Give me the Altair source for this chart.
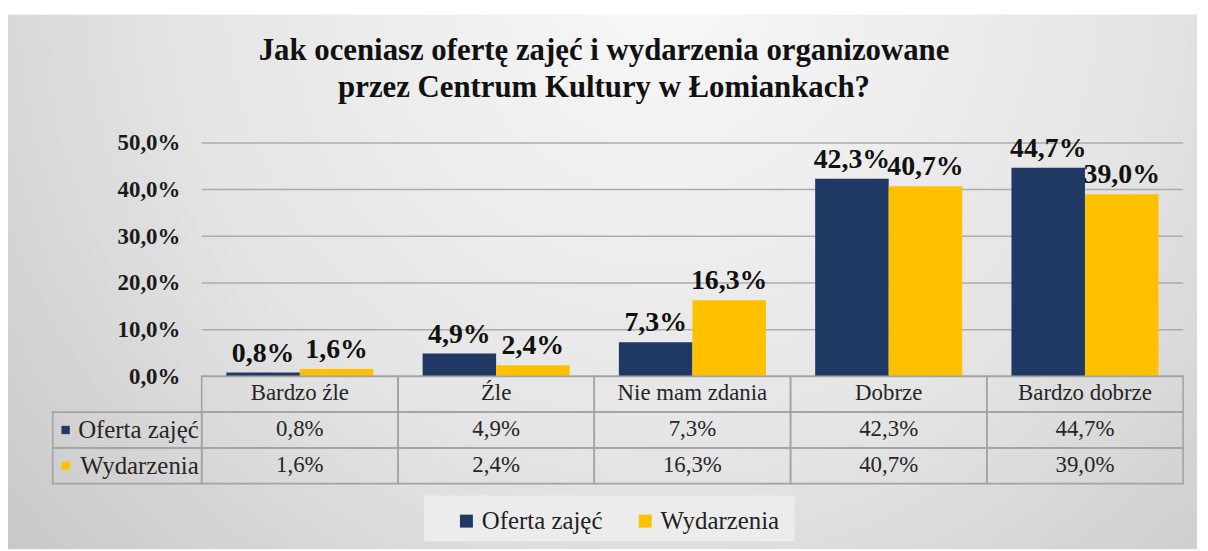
import altair as alt
import pandas as pd

categories = ["Bardzo źle", "Źle", "Nie mam zdania", "Dobrze", "Bardzo dobrze"]
series = ["Oferta zajęć", "Wydarzenia"]
oferta = [0.8, 4.9, 7.3, 42.3, 44.7]
wydarzenia = [1.6, 2.4, 16.3, 40.7, 39.0]
colors = ["#1F3864", "#FFC000"]
title_lines = ["Jak oceniasz ofertę zajęć i wydarzenia organizowane",
               "przez Centrum Kultury w Łomiankach?"]
y_ticks = [0, 10, 20, 30, 40, 50]

FONT = "'Times New Roman', 'Liberation Serif', 'DejaVu Serif', serif"
W, H = 988, 235

rows = []
for s, vals in zip(series, [oferta, wydarzenia]):
    for c, v in zip(categories, vals):
        rows.append({"cat": c, "series": s, "value": v})
long_df = pd.DataFrame(rows)

table_rows = [{"cat": c, "row": "head", "txt": c} for c in categories]
for r in rows:
    table_rows.append({"cat": r["cat"], "row": r["series"],
                       "txt": (f"{r['value']:.1f}".replace(".", ",") + "%")})
table_df = pd.DataFrame(table_rows)
series_df = pd.DataFrame({"series": series})
ticks_df = pd.DataFrame({"t": y_ticks})
one = pd.DataFrame({"k": [0]})

xscale = alt.Scale(domain=categories, paddingInner=0, paddingOuter=0)
xoff = alt.XOffset("series:N", scale=alt.Scale(domain=series, paddingInner=0, paddingOuter=0.335))
yscale = alt.Scale(domain=[0, 50], nice=False)
row_scale = alt.Scale(domain=["head"] + series, range=[H, H + 108], paddingInner=0, paddingOuter=0)
cscale = alt.Scale(domain=series, range=colors)
fmt = "replace(format(datum.value, '.1f'), '.', ',') + '%'"

grad = alt.RadialGradient(
    gradient="radial", x1=0.55, y1=0.25, x2=0.55, y2=0.25, r1=0, r2=0.75,
    stops=[alt.GradientStop(offset=0, color="#f8f8f8"),
           alt.GradientStop(offset=0.55, color="#e4e4e4"),
           alt.GradientStop(offset=1, color="#c6c6c6")])

bg = alt.Chart(one).mark_rect(fill=grad).encode(
    x=alt.value(-195), x2=alt.value(1002), y=alt.value(-129), y2=alt.value(409))

legend_box = alt.Chart(one).mark_rect(fill="#ececec").encode(
    x=alt.value(224), x2=alt.value(597), y=alt.value(355), y2=alt.value(401))

t1 = alt.Chart(one).mark_text(text=title_lines[0], font=FONT, fontSize=31, fontWeight="bold",
                              color="#111111", baseline="middle").encode(
    x=alt.value(405), y=alt.value(-92))
t2 = alt.Chart(one).mark_text(text=title_lines[1], font=FONT, fontSize=31, fontWeight="bold",
                              color="#111111", baseline="middle").encode(
    x=alt.value(405), y=alt.value(-55))

grid = alt.Chart(ticks_df).mark_rule(color="#acacac", strokeWidth=1.5).encode(
    x=alt.value(0), x2=alt.value(W),
    y=alt.Y("t:Q", scale=yscale, axis=None),
)

bars = alt.Chart(long_df).mark_bar().encode(
    x=alt.X("cat:N", scale=xscale, axis=None),
    xOffset=xoff,
    y=alt.Y("value:Q", scale=yscale,
            axis=alt.Axis(values=y_ticks, labelExpr=fmt, title=None, domain=False, ticks=False,
                          grid=False, zindex=1,
                          labelFont=FONT, labelFontSize=23, labelFontWeight="bold",
                          labelColor="#1a1a1a", labelPadding=22)),
    color=alt.Color("series:N", scale=cscale,
                    legend=alt.Legend(orient="none", legendX=254, legendY=368, direction="horizontal",
                                      title=None, padding=0, symbolType="square", symbolSize=170,
                                      symbolStrokeWidth=0, labelFont=FONT, labelFontSize=25,
                                      labelColor="#222222", columnPadding=30, labelOffset=3)),
)

labels = alt.Chart(long_df).transform_calculate(lab=fmt).mark_text(
    font=FONT, fontSize=28, fontWeight="bold", color="#111111", baseline="bottom", dy=-5
).encode(
    x=alt.X("cat:N", scale=xscale, axis=None),
    xOffset=xoff,
    y=alt.Y("value:Q", scale=yscale, axis=None),
    text="lab:N",
)

cells = alt.Chart(table_df).mark_rect(fillOpacity=0, stroke="#a3a3a3", strokeWidth=1.6).encode(
    x=alt.X("cat:N", scale=xscale, axis=None),
    y=alt.Y("row:N", scale=row_scale, axis=None),
)
cell_text = alt.Chart(table_df).mark_text(font=FONT, fontSize=23, color="#262626", dy=-1).encode(
    x=alt.X("cat:N", scale=xscale, axis=None),
    y=alt.Y("row:N", scale=row_scale, axis=None),
    text="txt:N",
)
head_cells = alt.Chart(series_df).mark_rect(fillOpacity=0, stroke="#a3a3a3", strokeWidth=1.6).encode(
    x=alt.value(-150), x2=alt.value(0),
    y=alt.Y("series:N", scale=row_scale, axis=None),
)
head_text = alt.Chart(series_df).mark_text(font=FONT, fontSize=25, color="#262626", align="right").encode(
    x=alt.value(-3),
    y=alt.Y("series:N", scale=row_scale, axis=None),
    text="series:N",
)
head_sq = alt.Chart(series_df).mark_square(size=70, opacity=1).encode(
    x=alt.value(-137),
    y=alt.Y("series:N", scale=row_scale, axis=None),
    color=alt.Color("series:N", scale=cscale, legend=None),
)

chart = alt.layer(
    bg, legend_box, t1, t2, grid, bars, labels, cells, cell_text, head_cells, head_text, head_sq
).resolve_scale(y="independent").properties(
    width=W, height=H,
    autosize=alt.AutoSizeParams(type="none"),
    padding={"left": 195, "top": 134, "right": 17, "bottom": 174},
).configure_view(stroke=None)

chart.save("out.html", embed_options={"renderer": "svg", "actions": False})
